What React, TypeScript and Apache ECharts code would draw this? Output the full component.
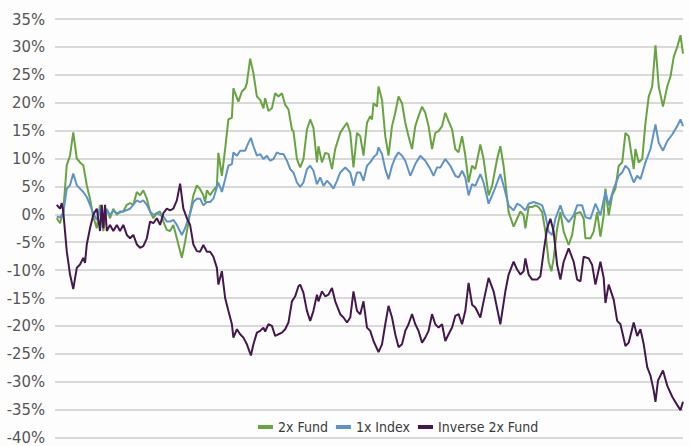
import React, { useEffect, useRef } from "react";
import * as echarts from "echarts";

// [trading day, cumulative return %]
const fund2x: [number, number][] = [
  [0.7, -0.7], [2, -1.6], [3.3, 0.5], [4.7, 8.8], [6, 10.5], [7.3, 14.7], [8.7, 10], [10, 9.3], [11.3, 8.8], [12.7, 5.2],
  [14, 2.8], [15.3, -0.5], [16.7, -2.5], [18, 1.7], [19.3, -3], [20.7, 1], [22, -0.7], [23.3, 1], [24.7, -0.1], [26, 0.5],
  [27.3, 0.5], [28.7, 1.7], [30, 2], [31.3, 1.7], [32.7, 4], [34, 3.4], [35.3, 4.3], [36.7, 2.8], [38, 0.5], [39.3, -0.7],
  [40.7, 0.2], [42, 0.5], [43.3, -1.3], [44.7, -2.8], [46, -3], [47.3, -1.9], [48.7, -4.3], [50, -6.6], [50.7, -7.8], [52, -4.9],
  [54, 0.2], [55.3, 3.4], [56.7, 5.2], [58, 4.5], [59.3, 3.4], [60, 2.2], [60.7, 4.3], [62, 3.4], [63.3, 4.3], [64.7, 5.1],
  [65.3, 11], [66.7, 6.9], [68, 11.7], [69.3, 17], [70.7, 17.3], [71.3, 22.6], [72, 21.7], [73.3, 20.2], [74.7, 22], [76, 22.6],
  [76.7, 23.5], [78, 27.9], [79.3, 25.3], [80.7, 21.1], [82, 20.5], [83.3, 19], [84, 20.8], [85.3, 18.5], [86.7, 19], [88, 21.7],
  [89.3, 21.1], [90.7, 21.7], [92, 19.6], [93.3, 18.8], [94.7, 15.2], [95.3, 14.9], [96.7, 9.9], [98, 8.4], [99.3, 9.9], [100.7, 15.2],
  [102, 17], [103.3, 15.5], [104.7, 9.3], [105.3, 12.2], [106.7, 9.3], [108, 11], [109.3, 10.8], [110.7, 8.1], [112, 11.7], [114, 14.6],
  [115.3, 15.5], [116.7, 16.4], [118, 14.6], [119.3, 8.4], [120.7, 14.6], [122, 14], [123.3, 10.5], [124.7, 16.4], [126, 17.6], [126.7, 17],
  [127.3, 19.9], [128.7, 19.3], [129.3, 22.9], [130.7, 20.5], [132, 14], [133.3, 10.5], [134.7, 15.8], [136, 18.2], [137.3, 21.1], [138.7, 19.9],
  [140, 16.4], [141.3, 14], [142.7, 11.7], [144, 15.8], [145.3, 17.6], [146.7, 19.3], [148, 18.2], [149.3, 15.8], [150.7, 11.7], [152, 14.6],
  [153.3, 14.9], [154.7, 15.8], [156, 18.2], [157.3, 16.7], [158.7, 15.2], [160, 11.7], [161.3, 11.1], [162.7, 14], [164, 10.5], [165.3, 5.7],
  [166.7, 8.7], [168, 8.1], [170, 12.5], [171.3, 9.9], [173.3, 3.4], [174.7, 5.1], [176.7, 9.9], [178, 12.2], [179.3, 8.7], [181.3, 0.4],
  [183.3, -2.2], [184.7, -0.8], [186, 0.5], [187.3, -0.2], [188, -2.5], [189.3, 1.3], [190.7, 1.3], [192, 1.6], [193.3, 1.3], [194.7, 0.4],
  [196, -3.1], [197.3, -8.5], [198.4, -10.2], [199.3, -7.9], [200.7, -2.5], [202, 0.4], [203.3, -3.1], [205.3, -5.5], [206.7, -3.7], [208, 0.1],
  [210, 0.4], [211.3, -0.8], [212, -4.3], [214, -4.3], [215.3, -3.1], [216.7, 0.4], [218, -4], [219.3, -0.2], [220, 4.6], [221.3, -0.2],
  [222.7, 3.4], [224, 4.6], [225.3, 8.7], [226.7, 9.3], [228, 14.6], [229.3, 14], [231.3, 8.1], [232, 11.7], [233.3, 9.3], [234.7, 9.9],
  [236, 16.4], [237.3, 21.1], [238.7, 22.9], [240, 30.3], [241.3, 22.9], [243, 19.3], [244.7, 22.9], [246, 24.7], [247.3, 28.2], [248.7, 30],
  [250, 32.1], [251, 28.8],
];

const index1x: [number, number][] = [
  [0.7, -0.4], [2, -0.6], [3.3, 0.2], [4.7, 4.6], [6, 5.2], [7.3, 7.3], [8.7, 5.2], [10, 4.6], [11.3, 4], [12.7, 3.1],
  [14, 1.7], [15.3, 0.2], [16.7, -1], [18, 1], [19.3, -1.3], [20.7, 0.8], [22, -0.1], [23.3, 0.6], [24.7, 0.2], [27.3, 0.5],
  [30, 1], [32.7, 2.5], [34, 2.2], [35.3, 2.5], [36.7, 1.7], [38, 0.5], [39.3, -0.1], [40.7, 0.2], [43.3, -0.4], [44.7, -1.3],
  [46, -1.3], [47.3, -1], [48.7, -1.9], [50.7, -3.7], [52, -2.5], [54, 0.2], [55.3, 2.2], [56.7, 2.8], [58, 2.8], [59.3, 1.6],
  [60.7, 2.2], [62, 2.2], [63.3, 2.8], [65.3, 5.7], [66.7, 4], [68, 6.3], [69.3, 8.7], [70.7, 9], [71.3, 11.1], [72.7, 10.5],
  [74, 11.4], [76, 11.4], [77.3, 12.8], [78.3, 13.7], [79.3, 12.2], [80.7, 10.5], [82, 10.8], [83.3, 9.9], [84.7, 10.5], [86, 9.6],
  [87.3, 9.9], [88.7, 11.1], [90, 10.8], [91.3, 10.8], [92.7, 9.6], [94, 8.1], [95.3, 7.5], [96.7, 5.7], [98, 4.9], [99.3, 5.7],
  [100.7, 8.1], [102, 8.7], [103.3, 7.8], [104.7, 5.4], [106, 6.6], [107.3, 5.1], [108.7, 6], [110, 5.4], [111.3, 4.6], [112.7, 6],
  [114, 7.5], [116, 8.4], [118, 7.5], [119.3, 5.1], [120.7, 7.5], [122, 7.5], [123.3, 6], [124.7, 8.7], [126, 9.3], [127.3, 10.2],
  [128.7, 10.8], [129.3, 12], [130.7, 10.8], [132, 8.1], [133.3, 6.3], [134.7, 8.7], [136, 10.2], [137.3, 11.1], [138.7, 10.5], [140, 9.6],
  [142, 6.9], [144, 9], [146, 10.5], [148, 9.6], [150, 8.1], [151.3, 6.9], [152.7, 8.4], [154, 8.4], [156, 9.9], [158, 8.7],
  [160, 6.9], [161.3, 6.6], [162.7, 7.8], [164, 6.6], [165.3, 3.4], [166.7, 5.4], [168, 5.1], [170, 7.2], [171.3, 5.7], [173.3, 1.9],
  [175.3, 4], [178, 7.2], [179.3, 5.1], [181.3, 1.6], [183.3, 0.7], [184.7, 1.9], [186, 1.6], [188, 0.7], [189.3, 1.9], [191.3, 2.2],
  [193.3, 1.9], [194.7, 1.6], [196, -0.2], [197.3, -3.1], [198.7, -3.7], [200, -0.8], [202, 1.6], [203.3, -0.2], [205.3, -1.4], [207.3, -0.2],
  [208.7, 1.6], [210.7, 1.6], [212, -0.5], [214, -0.8], [216, 1.9], [218, -0.2], [220, 4], [221.3, 1.6], [223.3, 4.6], [225.3, 6.9],
  [226.7, 7.5], [228, 8.7], [229.3, 8.1], [231.3, 5.7], [232.7, 6.9], [234, 6.3], [236, 9.3], [238, 11.7], [240, 16.1], [241.3, 12.8],
  [243, 11.4], [244.7, 13.1], [246.7, 14.3], [248.7, 15.8], [250, 17], [251, 15.8],
];

const inverse2x: [number, number][] = [
  [0.7, 1.7], [2, 1], [2.7, 2], [3.3, 0.5], [4.7, -6.6], [6, -10.8], [7.3, -13.4], [8.7, -9.6], [10, -9], [11.3, -7.8],
  [12, -8.7], [12.7, -5.4], [14, -2.5], [15.3, -0.1], [16.7, 1], [18, -3], [18.7, 1.7], [19.3, -2.5], [20, 1.7], [20.7, -3],
  [22, -1.9], [23.3, -3], [24.7, -1.9], [26, -3], [27.3, -1.9], [28.7, -3.7], [30, -4.3], [31.3, -3.7], [32.7, -5.4], [34, -6],
  [35.3, -5.7], [36.7, -4.3], [38, -1.3], [39.3, -1.6], [40.7, -0.7], [42, -1.9], [43.3, 0.2], [44.7, 1], [46, 0.7], [47.3, 1],
  [48.7, 2.5], [50, 5.5], [51.3, 1], [52.7, -0.7], [54, -1.9], [55.3, -5.4], [56.7, -6.6], [58, -6.7], [59.3, -5.5], [60.7, -6.7],
  [62, -6.7], [63.3, -7.6], [64.7, -9.6], [65.3, -12.6], [66.7, -10.2], [68, -15], [69.3, -17.3], [70.7, -19.7], [71.3, -22.1], [72.7, -20.6],
  [74, -21.5], [75.3, -22.1], [76.7, -23.3], [78.3, -25.3], [79.3, -23.3], [80.7, -21.2], [82, -20.9], [83.3, -20.3], [84, -21], [85.3, -19.7],
  [86.7, -20], [88, -21.8], [89.3, -21.5], [90.7, -21.2], [92, -20.6], [93.3, -19.4], [94.7, -15.6], [96, -14.7], [97.3, -12.9], [98, -12.6],
  [99.3, -14.1], [100.7, -17.3], [102, -19.1], [103.3, -17.3], [104.7, -14.4], [105.3, -15.6], [106.7, -13.8], [108, -14.7], [109.3, -14.4], [110.7, -13.2],
  [112, -15.6], [114, -17.9], [115.3, -18.5], [116.7, -19.4], [118, -18.5], [119.3, -13.8], [120.7, -17.3], [122, -17.9], [123.3, -15.6], [124.7, -20.3],
  [126, -20.9], [127.3, -22.7], [129.3, -24.7], [130.7, -23.3], [132, -19.7], [133.3, -16.4], [134.7, -18.5], [136, -21.5], [137.3, -23.8], [138.7, -23.3],
  [140, -20.9], [141.3, -19.7], [142.7, -17.9], [144, -19.7], [145.3, -20.9], [146.7, -23], [148, -22.1], [149.3, -20.9], [150.7, -17.9], [152, -19.7],
  [153.3, -20.3], [154.7, -19.7], [156, -22.7], [157.3, -21.5], [158.7, -20.3], [160, -18.2], [161.3, -17.9], [162.7, -19.7], [164, -17.3], [165.3, -12.3],
  [166.7, -16.2], [168, -16.7], [170, -18.5], [171.3, -15.6], [173.3, -11.4], [175.3, -13.8], [178, -19.7], [180, -13.8], [181.3, -10.8], [183.3, -8.5],
  [184.7, -9.9], [186, -10.8], [187.3, -10.2], [188, -7.9], [189.3, -10.8], [190.7, -11.7], [192.7, -11.7], [194, -11.1], [195.3, -6.7], [196.7, -2.5],
  [198, -0.8], [199.3, -3.1], [200.7, -9.1], [202, -11.7], [203.3, -8.5], [205.3, -6.1], [207.3, -8.5], [208.7, -11.7], [210, -12], [211.3, -7.6],
  [213.3, -7.9], [214.7, -9.1], [216, -12.6], [218, -8.5], [219.3, -11.4], [220, -15.9], [221.3, -12.6], [223.3, -15.3], [224.7, -19.1], [226, -19.7],
  [228, -23.6], [229.3, -23], [231.3, -19.4], [232.7, -21.8], [234, -20.6], [235.3, -23.3], [236.7, -27.4], [238, -28.9], [239.3, -31.6], [240, -33.6],
  [241, -29.8], [243, -28], [244.7, -30.7], [246.7, -32.7], [248.7, -34.2], [250, -35.1], [251, -33.6],
];

const seriesNames = ["2x Fund", "1x Index", "Inverse 2x Fund"];
const seriesColors = ["#67a340", "#5d93c6", "#44184c"];

const FONT = "'DejaVu Sans Condensed', 'Liberation Sans Narrow', Roboto, sans-serif";

export default function App() {
  const ref = useRef<HTMLDivElement>(null);
  useEffect(() => {
    if (!ref.current) return;
    const chart = echarts.init(ref.current, undefined, { renderer: "svg" });
    const datasets = [fund2x, index1x, inverse2x];
    chart.setOption({
      animation: false,
      backgroundColor: "#fdfdfd",
      grid: { left: 55, right: 6, top: 19, bottom: 5, containLabel: false },
      legend: {
        data: seriesNames,
        left: 258,
        top: 418,
        padding: 0,
        itemWidth: 15,
        itemHeight: 4,
        itemGap: 8,
        icon: "rect",
        textStyle: {
          fontFamily: FONT,
          fontSize: 14,
          color: "#3a3a3a",
          lineHeight: 18,
        },
      },
      xAxis: {
        type: "value",
        min: 0,
        max: 251,
        show: false,
        splitLine: { show: false },
      },
      yAxis: {
        type: "value",
        min: -40,
        max: 35,
        interval: 5,
        axisLine: { show: false },
        axisTick: { show: false },
        axisLabel: {
          formatter: "{value}%",
          margin: 10,
          fontFamily: FONT,
          fontSize: 16.5,
          color: "#555555",
        },
        splitLine: { lineStyle: { color: "#cccccc", width: 1.5 } },
      },
      series: datasets.map((d, i) => ({
        name: seriesNames[i],
        type: "line",
        data: d,
        showSymbol: false,
        symbol: "none",
        color: seriesColors[i],
        lineStyle: { width: 2, color: seriesColors[i] },
      })),
    });
    return () => chart.dispose();
  }, []);
  return (
    <div
      ref={ref}
      style={{ position: "fixed", left: 0, top: 0, width: 689, height: 446 }}
    />
  );
}
